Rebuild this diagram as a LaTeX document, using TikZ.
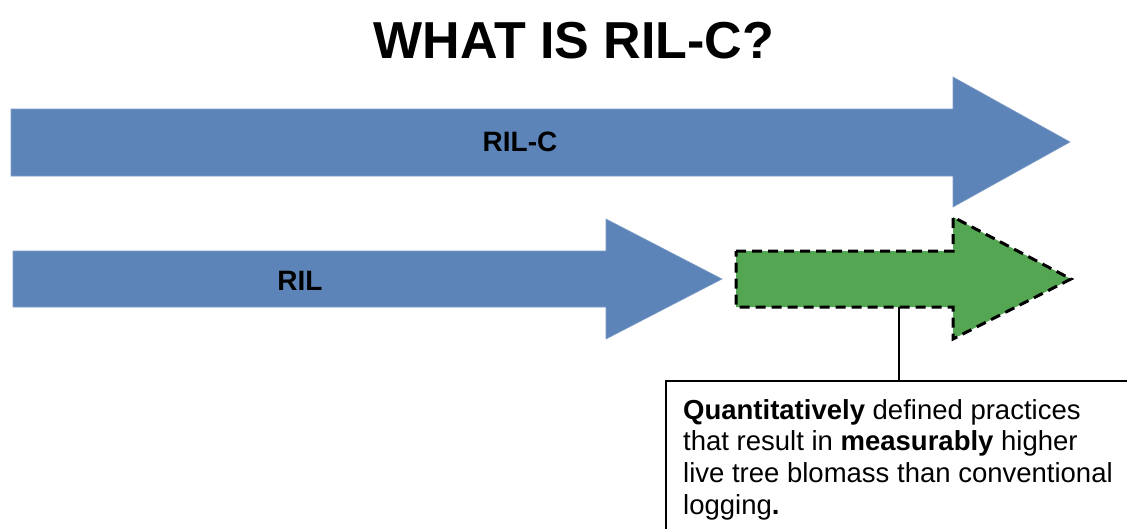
\documentclass[tikz,border=0pt]{standalone}
\usepackage{fontspec}
\setmainfont{Liberation Sans}
\definecolor{arrowblue}{RGB}{92,132,185}
\definecolor{arrowgreen}{RGB}{84,166,83}
\tikzset{
  bluearrow/.style={fill=arrowblue, draw=arrowblue!80!white, line width=0.6pt},
  greenarrow/.style={fill=arrowgreen, draw=black, line width=3pt, dash pattern=on 10pt off 6pt, line join=miter},
  arrowlabel/.style={font=\bfseries\fontsize{28}{32}\selectfont, anchor=base, inner sep=0pt},
  callout/.style={draw=black, line width=2pt, fill=white, anchor=north west, minimum width=520pt, minimum height=200pt, inner sep=0pt},
  calloutline/.style={draw=black, line width=2pt},
}
\begin{document}
\begin{tikzpicture}[x=1pt, y=-1pt]
\useasboundingbox (0,0) rectangle (1127,528);
\fill[white] (0,0) rectangle (1127,528);

% title
\node[font=\bfseries\fontsize{52}{60}\selectfont, anchor=base, inner sep=0pt] (title) at (574,58) {WHAT IS RIL-C?};

% RIL-C arrow
\draw[bluearrow] (11,109) -- (953,109) -- (953,77) -- (1070,142) -- (953,207) -- (953,176) -- (11,176) -- cycle;
\node[arrowlabel] (rilc) at (520,151) {RIL-C};

% RIL arrow
\draw[bluearrow] (13,251) -- (606,251) -- (606,219) -- (722,279) -- (606,339) -- (606,307) -- (13,307) -- cycle;
\node[arrowlabel] (ril) at (300,290) {RIL};

% extension beyond RIL
\draw[greenarrow] (736,251) -- (953,251) -- (953,217) -- (1071,279) -- (953,339) -- (953,307) -- (736,307) -- cycle;
\coordinate (gbottom) at (899,307);

% callout box
\node[callout] (note) at (665,380) {};
\node[anchor=north west, align=left, inner sep=0pt,
      font=\fontsize{27.5}{31.8}\selectfont] (notetext) at ([xshift=18pt, yshift=-19pt]note.north west)
  {\textbf{Quantitatively} defined practices\\that result in \textbf{measurably} higher\\live tree blomass than conventional\\logging\textbf{.}};

\draw[calloutline] (gbottom) -- (gbottom |- note.north);
\end{tikzpicture}
\end{document}
